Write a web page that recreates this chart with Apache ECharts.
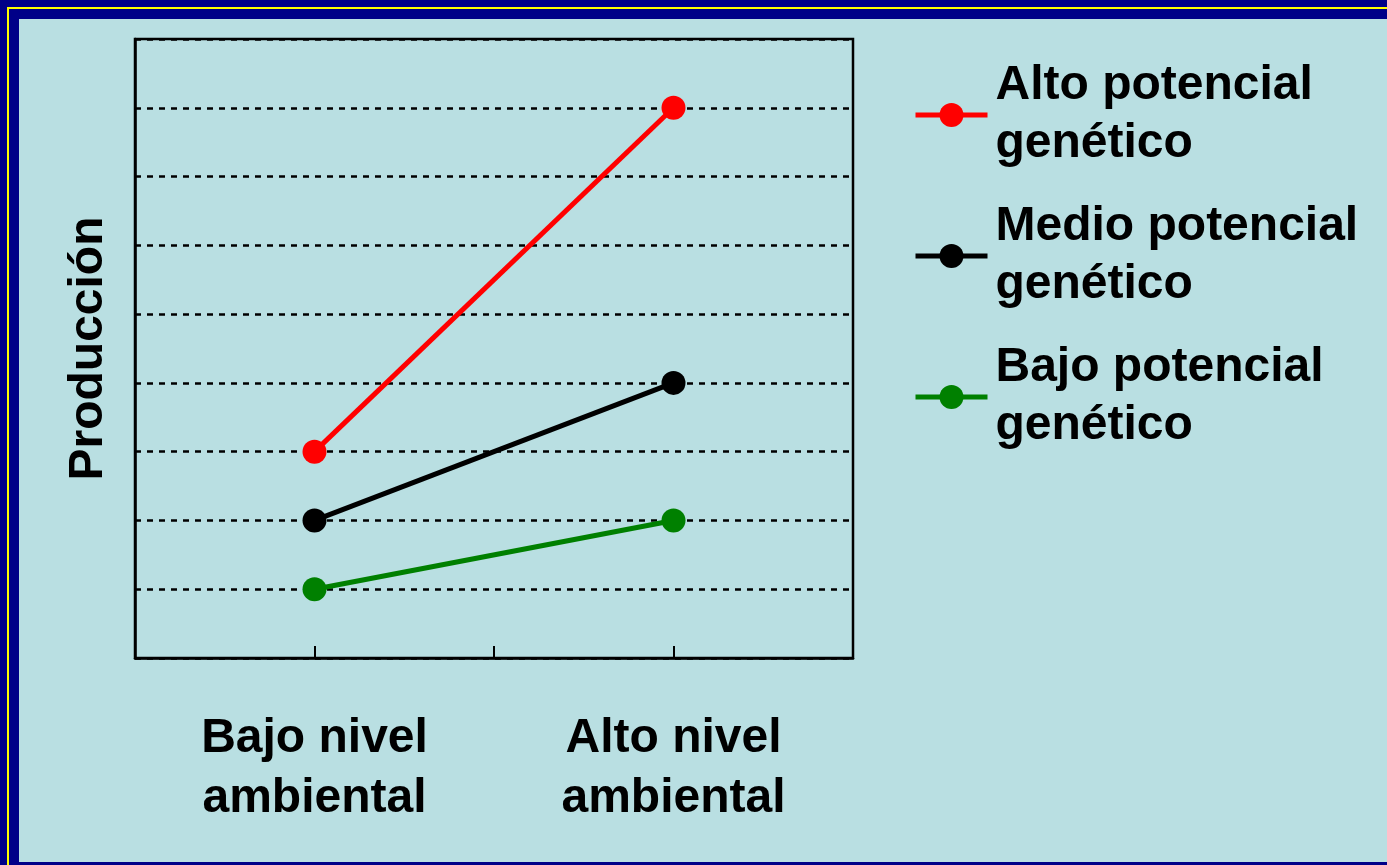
<!DOCTYPE html>
<html>
<head>
<meta charset="utf-8">
<script src="https://cdn.jsdelivr.net/npm/echarts@6/dist/echarts.min.js"></script>
<style>
  body { margin: 0; width: 1387px; height: 865px; overflow: hidden; background: #000088; position: relative; }
  .frame { position: absolute; left: 7px; top: 7px; width: 1400px; height: 900px; border-left: 2px solid #ffff00; border-top: 2px solid #ffff00; }
  .chart { position: absolute; left: 19px; top: 19px; width: 1368px; height: 843px; background: #b9dfe2; }
</style>
</head>
<body>
<div class="frame"></div>
<div class="chart" id="chart"></div>
<script>
// niveles ambientales (eje x)
const niveles = ['Bajo nivel\nambiental', 'Alto nivel\nambiental'];
// series de produccion
const altoPotencial = [3, 8];
const medioPotencial = [2, 4];
const bajoPotencial = [1, 2];
const nombres = ['Alto potencial\ngenético', 'Medio potencial\ngenético', 'Bajo potencial\ngenético'];
const colores = ['#ff0000', '#000000', '#008000'];

const font = "'Liberation Sans', Arial, sans-serif";
const myChart = echarts.init(document.getElementById('chart'));

function serie(i, data) {
  return {
    name: nombres[i],
    type: 'line',
    data: data,
    symbol: 'circle',
    symbolSize: 24,
    color: colores[i],
    lineStyle: { width: 5, color: colores[i] },
    itemStyle: { color: colores[i] },
    emphasis: { disabled: true },
    z: 10 - i
  };
}

const tick = { show: true, inside: true, length: 12, lineStyle: { color: '#000', width: 2 } };

const option = {
  animation: false,
  grid: {
    left: 116,
    top: 20,
    right: 534,
    bottom: 204,
    show: true,
    borderColor: '#000',
    borderWidth: 2.5,
    backgroundColor: 'transparent'
  },
  legend: {
    orient: 'vertical',
    left: 894,
    top: 9,
    padding: 0,
    itemGap: -33,
    itemWidth: 72,
    itemHeight: 30,
    data: nombres,
    lineStyle: { width: 5 },
    textStyle: {
      fontFamily: font,
      fontWeight: 'bold',
      fontSize: 48,
      lineHeight: 58,
      color: '#000',
      padding: [58, 0, 0, 3]
    }
  },
  xAxis: [
    {
      type: 'category',
      position: 'bottom',
      data: niveles,
      boundaryGap: true,
      z: 5,
      axisLine: { lineStyle: { color: '#000', width: 2.5 } },
      axisTick: tick,
      axisLabel: {
        margin: 51,
        fontFamily: font,
        fontWeight: 'bold',
        fontSize: 48,
        lineHeight: 60,
        color: '#000'
      }
    },
    {
      type: 'category',
      position: 'bottom',
      data: niveles,
      boundaryGap: true,
      z: 5,
      axisLine: { show: false },
      axisTick: Object.assign({ alignWithLabel: true }, tick),
      axisLabel: { show: false }
    }
  ],
  yAxis: {
    type: 'value',
    min: 0,
    max: 9,
    interval: 1,
    name: 'Producción',
    nameLocation: 'middle',
    nameGap: 22,
    nameTextStyle: { fontFamily: font, fontWeight: 'bold', fontSize: 48, color: '#000' },
    axisLine: { show: true, lineStyle: { color: '#000', width: 2.5 } },
    axisTick: { show: false },
    axisLabel: { show: false },
    splitLine: { lineStyle: { color: '#000', width: 2.5, type: [6, 6] } }
  },
  series: [
    serie(0, altoPotencial),
    serie(1, medioPotencial),
    serie(2, bajoPotencial)
  ]
};

myChart.setOption(option);
</script>
</body>
</html>
